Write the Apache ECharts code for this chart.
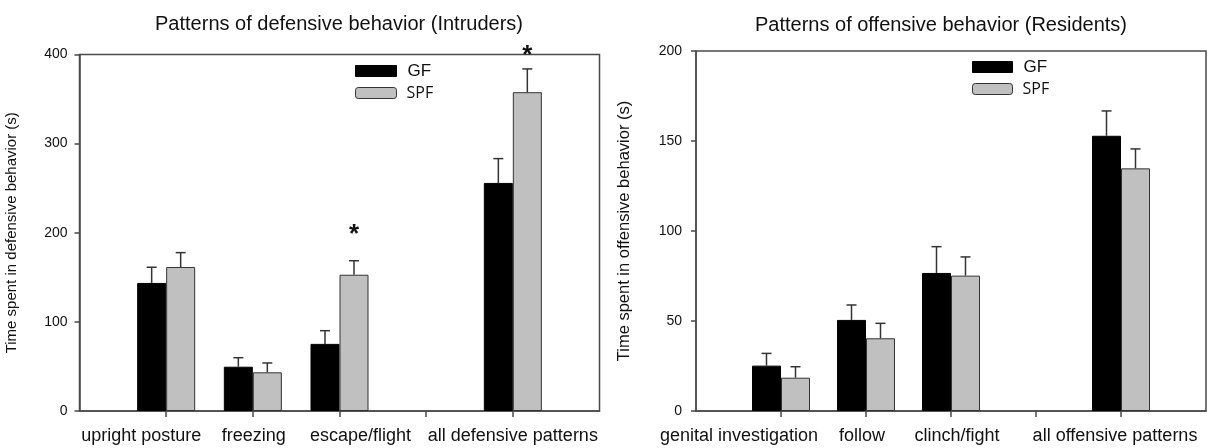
<!DOCTYPE html>
<html>
<head>
<meta charset="utf-8">
<script src="https://cdn.jsdelivr.net/npm/echarts@6/dist/echarts.min.js"></script>
<style>
  html, body { margin: 0; padding: 0; background: #fff; }
  #chart { width: 1209px; height: 448px; }
</style>
</head>
<body>
<div id="chart"></div>
<script>
// left panel: defensive behaviour of intruders
const defCategories = ['', 'upright posture', 'freezing', 'escape/flight', '', 'all defensive patterns', '']
const defGF = ['-', 143.7, 49.7, 75.3, '-', 255.9, '-']
const defGFsem = [0, 17.6, 10.1, 14.8, 0, 27.3, 0]
const defSPF = ['-', 161.6, 43.4, 152.9, '-', 357.7, '-']
const defSPFsem = [0, 16.1, 10.5, 15.7, 0, 26.1, 0]
const defStars = [[3, 198], [5, 398]]
const defTicks = [0, 400, 100]

// right panel: offensive behaviour of residents
const offCategories = ['', 'genital investigation', 'follow', 'clinch/fight', '', 'all offensive patterns', '']
const offGF = ['-', 25.2, 50.6, 76.7, '-', 152.9, '-']
const offGFsem = [0, 6.8, 8.3, 14.6, 0, 13.8, 0]
const offSPF = ['-', 18.5, 40.4, 75.2, '-', 134.8, '-']
const offSPFsem = [0, 6.1, 8.3, 10.4, 0, 10.8, 0]
const offTicks = [0, 200, 50]

const BAR_W = 29
const FONT = '"Liberation Sans", Arial, sans-serif'
const AXIS_COLOR = '#4a4a4a'

// the category labels in the original are not all centred on their ticks (px shift)
const defLabelShift = [0, -25, 1, 21, 0, 0, 0]
const offLabelShift = [0, -42, -4, 6, 0, -6, 0]

// error bar data: [category index, mean, mean + sem]
const errData = (means, sems) =>
  means.map((m, i) => (m === '-' ? null : [i, m, m + sems[i]])).filter(d => d)

function errorBars(gridIdx, means, sems, side) {
  return {
    type: 'custom',
    xAxisIndex: gridIdx,
    yAxisIndex: gridIdx,
    silent: true,
    z: 3,
    data: errData(means, sems),
    renderItem(params, api) {
      const top = api.coord([api.value(0), api.value(1)])
      const cap = api.coord([api.value(0), api.value(2)])
      const x = top[0] + side * BAR_W / 2
      const st = { stroke: '#333', lineWidth: 1.5 }
      return {
        type: 'group',
        children: [
          { type: 'line', shape: { x1: x, y1: top[1], x2: x, y2: cap[1] }, style: st },
          { type: 'line', shape: { x1: x - 5, y1: cap[1], x2: x + 5, y2: cap[1] }, style: st },
        ],
      }
    },
  }
}

function stars(gridIdx, data) {
  return {
    type: 'custom',
    xAxisIndex: gridIdx,
    yAxisIndex: gridIdx,
    silent: true,
    z: 4,
    data: data,
    renderItem(params, api) {
      const p = api.coord([api.value(0), api.value(1)])
      return {
        type: 'text',
        x: p[0] + BAR_W / 2,
        y: p[1],
        style: {
          text: '*',
          font: 'bold 26px ' + FONT,
          fill: '#111',
          textAlign: 'center',
          textVerticalAlign: 'middle',
        },
      }
    },
  }
}

function xAxis(gridIdx, cats, shifts) {
  return {
    type: 'category',
    gridIndex: gridIdx,
    data: cats.map((c, i) => ({
      value: c,
      textStyle: { padding: [0, Math.max(0, -2 * shifts[i]), 0, Math.max(0, 2 * shifts[i])] },
    })),
    boundaryGap: false,
    axisLine: { lineStyle: { color: AXIS_COLOR, width: 1.5 } },
    axisTick: {
      length: 6,
      interval: idx => idx > 0 && idx < cats.length - 1,
      lineStyle: { color: AXIS_COLOR, width: 1.5 },
    },
    axisLabel: { interval: 0, margin: 16, fontSize: 18, color: '#111', fontFamily: FONT, hideOverlap: false },
    splitLine: { show: false },
  }
}

function yAxis(gridIdx, ticks, name, nameGap, nameSize, labelMargin) {
  return {
    type: 'value',
    gridIndex: gridIdx,
    min: ticks[0],
    max: ticks[1],
    interval: ticks[2],
    name: name,
    nameLocation: 'middle',
    nameGap: nameGap,
    nameRotate: 90,
    nameTextStyle: { fontSize: nameSize, color: '#111', fontFamily: FONT },
    axisLine: { show: true, lineStyle: { color: AXIS_COLOR, width: 1.5 } },
    axisTick: { show: true, length: 5, lineStyle: { color: AXIS_COLOR, width: 1.5 } },
    axisLabel: { margin: labelMargin, fontSize: 14, color: '#111', fontFamily: FONT },
    splitLine: { show: false },
  }
}

function bars(gridIdx, gf, spf) {
  return [
    {
      name: 'GF', type: 'bar', xAxisIndex: gridIdx, yAxisIndex: gridIdx,
      data: gf, barWidth: BAR_W, barGap: '0%',
      itemStyle: { color: '#000', borderColor: '#000', borderWidth: 1 },
    },
    {
      name: 'SPF', type: 'bar', xAxisIndex: gridIdx, yAxisIndex: gridIdx,
      data: spf, barWidth: BAR_W, barGap: '0%',
      itemStyle: { color: '#c0c0c0', borderColor: '#333', borderWidth: 1 },
    },
  ]
}

function legend(left, top, w) {
  return {
    orient: 'vertical',
    left: left,
    top: top,
    padding: 0,
    itemWidth: w,
    itemHeight: 11,
    itemGap: 2,
    selectedMode: false,
    textStyle: { fontSize: 17, lineHeight: 20, color: '#111', fontFamily: FONT, padding: [0, 0, 0, 6] },
    data: [
      { name: 'GF', icon: 'rect', itemStyle: { color: '#000', borderColor: '#000', borderWidth: 1 } },
      {
        name: 'SPF', icon: 'roundRect',
        itemStyle: { color: '#c0c0c0', borderColor: '#333', borderWidth: 1 },
        textStyle: { fontFamily: '"Open Sans", sans-serif', fontSize: 16, padding: [0, 0, 0, 5] },
      },
    ],
  }
}

const titleText = (x, y, text) => ({
  type: 'text', x: x, y: y,
  style: { text: text, font: '20px ' + FONT, fill: '#111', textAlign: 'center', textVerticalAlign: 'middle' },
})

const option = {
  backgroundColor: '#fff',
  animation: false,
  graphic: [
    titleText(339, 24, 'Patterns of defensive behavior (Intruders)'),
    titleText(941, 25, 'Patterns of offensive behavior (Residents)'),
  ],
  legend: [legend(355, 61, 41), legend(972, 57, 40)],
  grid: [
    { left: 79.5, top: 54.5, width: 520, height: 356.5, show: true, borderColor: AXIS_COLOR, borderWidth: 1.5 },
    { left: 696, top: 51, width: 520, height: 360, show: true, borderColor: AXIS_COLOR, borderWidth: 1.5 },
  ],
  xAxis: [xAxis(0, defCategories, defLabelShift), xAxis(1, offCategories, offLabelShift)],
  yAxis: [
    yAxis(0, defTicks, 'Time spent in defensive behavior (s)', 60, 15, 12),
    yAxis(1, offTicks, 'Time spent in offensive behavior (s)', 63, 16.5, 14),
  ],
  series: [
    ...bars(0, defGF, defSPF),
    errorBars(0, defGF, defGFsem, -1),
    errorBars(0, defSPF, defSPFsem, 1),
    stars(0, defStars),
    ...bars(1, offGF, offSPF),
    errorBars(1, offGF, offGFsem, -1),
    errorBars(1, offSPF, offSPFsem, 1),
  ],
}

const chart = echarts.init(document.getElementById('chart'))
chart.setOption(option)
window.onresize = function () {
  chart.resize()
}
</script>
</body>
</html>
